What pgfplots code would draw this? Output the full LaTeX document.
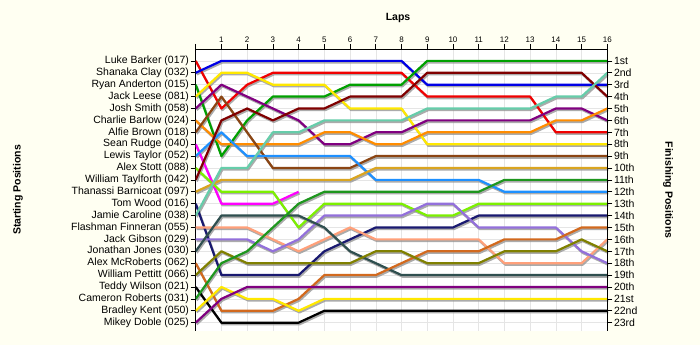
\documentclass[border=0pt]{standalone}
\usepackage{fontspec}
\setmainfont{Liberation Sans}
\usepackage{pgfplots}
\usepackage{pgfplotstable}
\pgfplotsset{compat=1.18}
\definecolor{bgivory}{RGB}{255,255,242}
\definecolor{shadowc}{RGB}{150,150,150}
\definecolor{c1}{RGB}{240,0,0}
\definecolor{c2}{RGB}{0,0,230}
\definecolor{c3}{RGB}{0,160,0}
\definecolor{c4}{RGB}{255,232,0}
\definecolor{c5}{RGB}{128,0,128}
\definecolor{c6}{RGB}{255,140,0}
\definecolor{c7}{RGB}{139,69,19}
\definecolor{c8}{RGB}{255,0,255}
\definecolor{c9}{RGB}{30,144,255}
\definecolor{c10}{RGB}{124,240,0}
\definecolor{c11}{RGB}{128,0,0}
\definecolor{c12}{RGB}{218,165,32}
\definecolor{c13}{RGB}{25,25,112}
\definecolor{c14}{RGB}{102,205,170}
\definecolor{c15}{RGB}{255,160,122}
\definecolor{c16}{RGB}{147,112,219}
\definecolor{c17}{RGB}{47,79,79}
\definecolor{c18}{RGB}{210,105,30}
\definecolor{c19}{RGB}{128,128,0}
\definecolor{c20}{RGB}{0,0,0}
\definecolor{c21}{RGB}{30,150,30}
\definecolor{c22}{RGB}{255,232,0}
\definecolor{c23}{RGB}{128,0,128}

\pgfplotstableread{
lap d1 d2 d3 d4 d5 d6 d7 d8 d9 d10 d11 d12 d13 d14 d15 d16 d17 d18 d19 d20 d21 d22 d23
0  1 2 3 4 5 6 7 8 9 10 11 12 13 14 15 16 17 18 19 20 21 22 23
1  5 1 9 2 3 8 4 13 7 12 6 11 19 10 15 16 14 22 17 23 18 20 21
2  3 1 6 2 4 8 7 13 9 12 5 11 19 10 15 16 14 22 18 23 17 21 20
3  2 1 4 3 5 8 10 13 9 12 6 11 19 7 16 17 14 22 18 23 15 21 20
4  2 1 4 3 6 8 10 12 9 15 5 11 19 7 17 16 14 21 18 23 13 22 20
5  2 1 4 3 8 7 10 nan 9 13 5 11 17 6 16 14 15 19 18 22 12 21 20
6  2 1 3 5 8 7 10 nan 9 13 4 11 16 6 15 14 17 19 18 22 12 21 20
7  2 1 3 5 7 8 9 nan 11 13 4 10 15 6 16 14 18 19 17 22 12 21 20
8  2 1 3 5 7 8 9 nan 11 13 4 10 15 6 16 14 19 18 17 22 12 21 20
9  4 3 1 8 6 7 9 nan 11 14 2 10 15 5 16 13 19 17 18 22 12 21 20
10 4 3 1 8 6 7 9 nan 11 14 2 10 15 5 16 13 19 17 18 22 12 21 20
11 4 3 1 8 6 7 9 nan 11 13 2 10 14 5 16 15 19 17 18 22 12 21 20
12 4 3 1 8 6 7 9 nan 12 13 2 10 14 5 18 15 19 16 17 22 11 21 20
13 4 3 1 8 6 7 9 nan 12 13 2 10 14 5 18 15 19 16 17 22 11 21 20
14 7 3 1 8 5 6 9 nan 12 13 2 10 14 4 18 15 19 16 17 22 11 21 20
15 7 3 1 8 5 6 9 nan 12 13 2 10 14 4 18 17 19 15 16 22 11 21 20
16 7 3 1 8 6 5 9 nan 12 13 4 10 14 2 16 18 19 15 17 22 11 21 20
}\lapdata

\newcommand{\lblfont}{\fontsize{10.5}{12}\selectfont}

\begin{document}
\begin{tikzpicture}
\path[use as bounding box, fill=bgivory] (-195.7pt,-14pt) rectangle (504.3pt,331pt);
\begin{axis}[
  at={(0pt,0pt)}, anchor=south west,
  scale only axis, width=411.6pt, height=282pt,
  xmin=0, xmax=16, ymin=0, ymax=23.7, y dir=reverse,
  axis x line*=top, axis y line*=left,
  axis line style={-, black, line width=0.8pt},
  xtick={0,...,16},
  xticklabels={,1,2,3,4,5,6,7,8,9,10,11,12,13,14,15,16},
  ytick={1,...,23},
  yticklabels={{Luke Barker (017)},{Shanaka Clay (032)},{Ryan Anderton (015)},{Jack Leese (081)},{Josh Smith (058)},{Charlie Barlow (024)},{Alfie Brown (018)},{Sean Rudge (040)},{Lewis Taylor (052)},{Alex Stott (088)},{William Taylforth (042)},{Thanassi Barnicoat (097)},{Tom Wood (016)},{Jamie Caroline (038)},{Flashman Finneran (055)},{Jack Gibson (029)},{Jonathan Jones (030)},{Alex McRoberts (062)},{William Pettitt (066)},{Teddy Wilson (021)},{Cameron Roberts (031)},{Bradley Kent (050)},{Mikey Doble (025)}},
  tick align=outside, major tick length=5pt,
  tick style={black, line width=0.6pt},
  xticklabel style={font=\fontsize{8}{9}\selectfont, inner sep=1pt},
  yticklabel style={font=\lblfont, inner sep=1.5pt},
  grid=major, major grid style={black!10, line width=0.5pt},
  axis background/.style={fill=white},
  unbounded coords=jump,
  clip mode=individual,
]
\pgfplotsinvokeforeach{1,...,23}{
  \addplot[shadowc, line width=2.2pt, line join=round, opacity=0.8, transform canvas={xshift=1pt,yshift=-1.6pt}] table[x=lap, y=d#1] {\lapdata};
}
\pgfplotsinvokeforeach{1,...,23}{
  \addplot[c#1, line width=2.2pt, line join=round] table[x=lap, y=d#1] {\lapdata};
}
\node[font=\bfseries\lblfont] at (axis description cs:0.4915,1.11) {Laps};
\node[font=\bfseries\lblfont, rotate=90] at (axis description cs:-0.4317,0.5) {Starting Positions};
\node[font=\bfseries\lblfont, rotate=-90] at (axis description cs:1.1475,0.5) {Finishing Positions};
\end{axis}
\begin{axis}[
  at={(0pt,0pt)}, anchor=south west,
  scale only axis, width=411.6pt, height=282pt,
  xmin=0, xmax=16, ymin=0, ymax=23.7, y dir=reverse,
  axis x line=none, axis y line*=right,
  axis line style={-, black, line width=0.8pt},
  ytick={1,...,23},
  yticklabels={1st,2nd,3rd,4th,5th,6th,7th,8th,9th,10th,11th,12th,13th,14th,15th,16th,17th,18th,19th,20th,21st,22nd,23rd},
  tick align=outside, major tick length=5pt,
  tick style={black, line width=0.6pt},
  yticklabel style={font=\lblfont, inner sep=1.5pt},
]
\addplot[draw=none] coordinates {(0,1)};
\end{axis}
\end{tikzpicture}
\end{document}
